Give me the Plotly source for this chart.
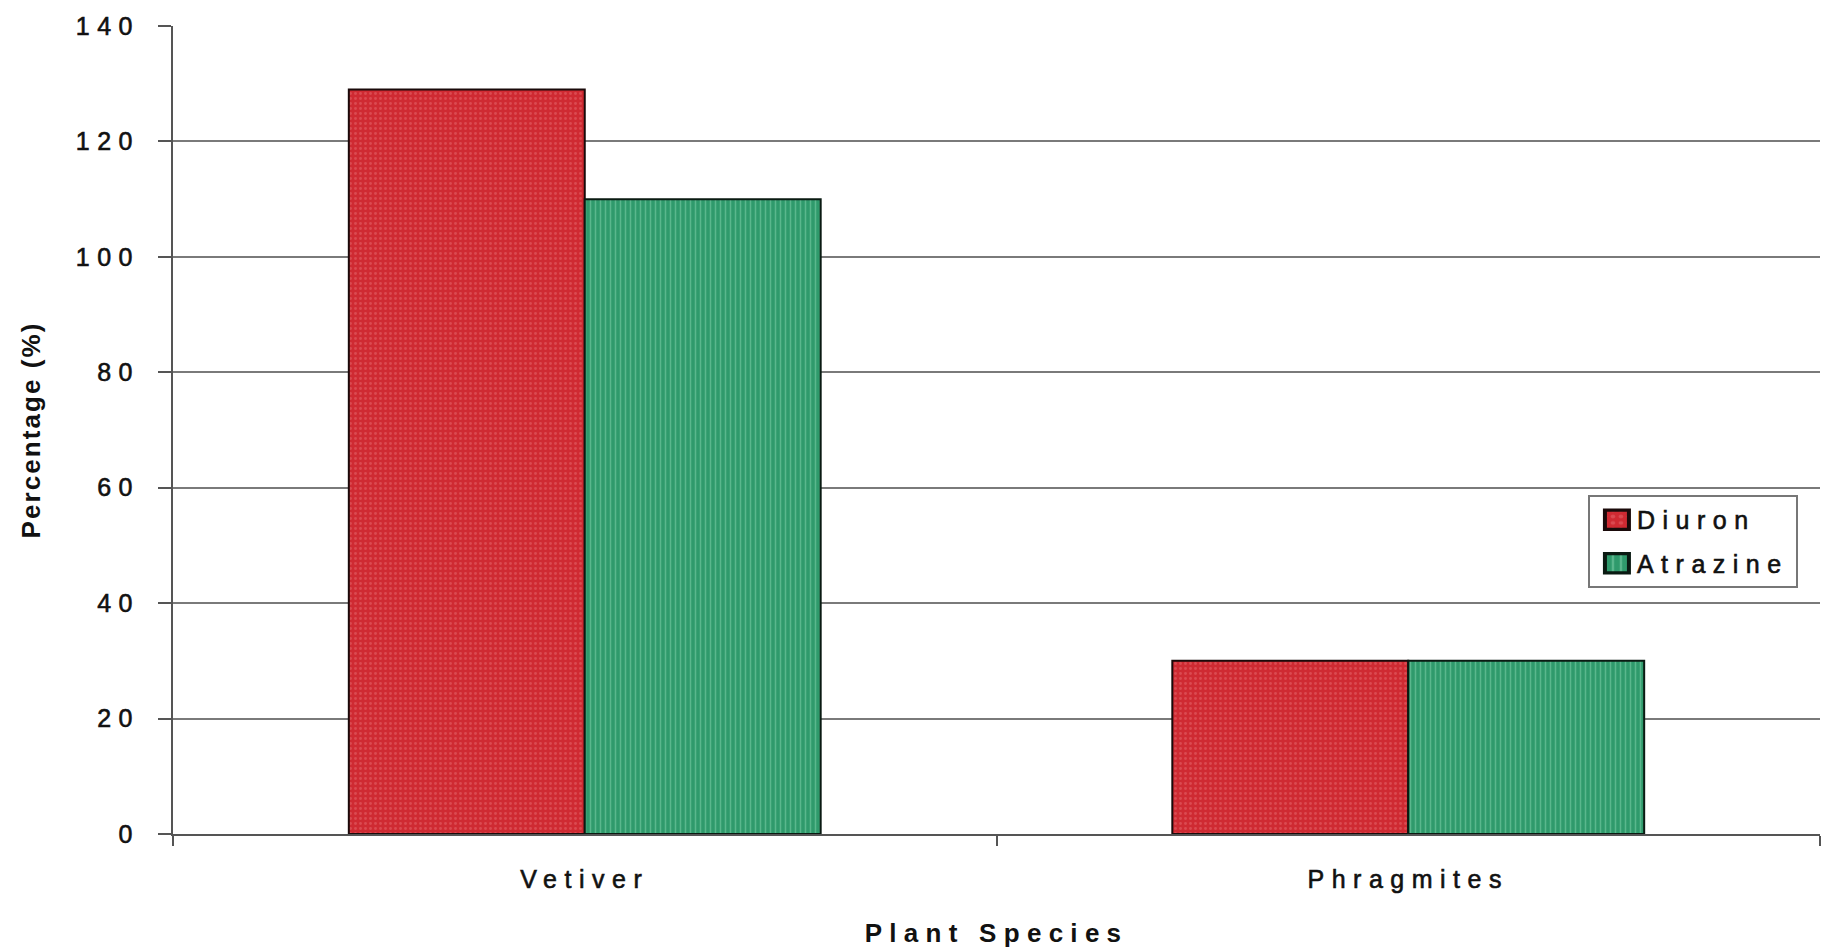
import plotly.graph_objects as go

# Plant species and removal percentages per herbicide
species = ["Vetiver", "Phragmites"]
diuron = [129, 30]
atrazine = [110, 30]
y_ticks = [0, 20, 40, 60, 80, 100, 120, 140]

FONT = "Liberation Sans, Arial, sans-serif"

fig = go.Figure()
fig.add_trace(go.Bar(
    name="Diuron", x=species, y=diuron, legendgroup="diuron",
    marker=dict(color="#cf2a32", line=dict(color="#1a0a0a", width=2),
                pattern=dict(shape=".", fgcolor="#e66a70", size=5, solidity=0.25)),
))
fig.add_trace(go.Bar(
    name="Atrazine", x=species, y=atrazine, legendgroup="atrazine",
    marker=dict(color="#2f9a6c", line=dict(color="#0a1a12", width=2),
                pattern=dict(shape="|", fgcolor="#86d4ae", size=5, solidity=0.3)),
))

fig.update_layout(
    width=1823, height=950,
    margin=dict(l=173, r=3, t=26, b=116, autoexpand=False),
    paper_bgcolor="white", plot_bgcolor="white",
    barmode="group", bargap=0.427, bargroupgap=0,
    font=dict(family=FONT, color="#111111", size=25),
    showlegend=True,
    legend=dict(
        x=0.9866, xanchor="right", y=0.4196, yanchor="top",
        bgcolor="white", bordercolor="#777777", borderwidth=2,
        font=dict(family=FONT, size=25, color="#111111"),
        itemsizing="constant", tracegroupgap=8,
    ),
    xaxis=dict(
        showgrid=False, showline=True, linecolor="#555555", linewidth=2,
        ticks="outside", tickson="boundaries", ticklen=10, tickcolor="#555555", tickwidth=2,
        tickfont=dict(family=FONT, size=25, color="#111111"),
        ticklabelstandoff=22,
        title=dict(text="<b>Plant Species</b>", standoff=32,
                   font=dict(family=FONT, size=26, color="#111111")),
        automargin=False,
    ),
    yaxis=dict(
        range=[0, 140], tickvals=y_ticks,
        showgrid=True, gridcolor="#7a7a7a", gridwidth=2,
        showline=True, linecolor="#555555", linewidth=2,
        ticks="outside", ticklen=13, tickcolor="#555555", tickwidth=2,
        tickfont=dict(family=FONT, size=25, color="#111111"),
        ticklabelstandoff=13,
        zeroline=False,
        title=dict(text="<b>Percentage (%)</b>", standoff=50,
                   font=dict(family=FONT, size=26, color="#111111")),
        automargin=False,
    ),
)

# Widen the letter spacing of the chart text, enlarge the legend swatches
# and grow the legend box so the spaced-out entries fit inside it
post = """
var gd = document.querySelector('.plotly-graph-div');
var LEGEND_W = 208;
var ITEM_SHIFT = 7;
function tweak(){
  document.querySelectorAll('.xtick text, .ytick text, .legendtext').forEach(function(t){
    t.style.letterSpacing = '0.3em';
    t.style.stroke = '#111111';
    t.style.strokeWidth = '0.6px';
  });
  document.querySelectorAll('.g-xtitle text').forEach(function(t){ t.style.letterSpacing='0.28em'; });
  document.querySelectorAll('.g-ytitle text').forEach(function(t){ t.style.letterSpacing='0.08em'; });
  document.querySelectorAll('.legendpoints path').forEach(function(p){
    if (!p.dataset.scaled) {
      var tr = p.getAttribute('transform') || '';
      p.setAttribute('transform', tr + ' scale(2.0,1.6)');
      p.dataset.scaled = '1';
    }
  });
  var leg = document.querySelector('g.legend');
  if (!leg) return;
  var bg = leg.querySelector('rect.bg');
  if (!bg) return;
  var w = parseFloat(bg.getAttribute('width'));
  if (w >= LEGEND_W) return;
  var dw = LEGEND_W - w;
  var m = /translate\\(\\s*([-\\d.e]+)[\\s,]+([-\\d.e]+)\\s*\\)/.exec(leg.getAttribute('transform') || '');
  if (m) {
    leg.setAttribute('transform', 'translate(' + (parseFloat(m[1]) - dw) + ',' + m[2] + ')');
  }
  bg.setAttribute('width', LEGEND_W);
  var sb = leg.querySelector('g.scrollbox');
  if (sb) {
    var cp = sb.getAttribute('clip-path') || '';
    var idm = /#([^"')]+)/.exec(cp);
    if (idm) {
      var cpe = document.getElementById(idm[1]);
      if (cpe) {
        var r = cpe.querySelector('rect');
        if (r) r.setAttribute('width', LEGEND_W);
      }
    }
    sb.querySelectorAll('g.groups').forEach(function(g){
      if (!g.dataset.shifted) {
        var tr = g.getAttribute('transform') || '';
        g.setAttribute('transform', tr + ' translate(' + ITEM_SHIFT + ',0)');
        g.dataset.shifted = '1';
      }
    });
  }
}
tweak();
if (gd && gd.on) { gd.on('plotly_afterplot', tweak); }
"""

fig.write_html("out.html", post_script=post)
